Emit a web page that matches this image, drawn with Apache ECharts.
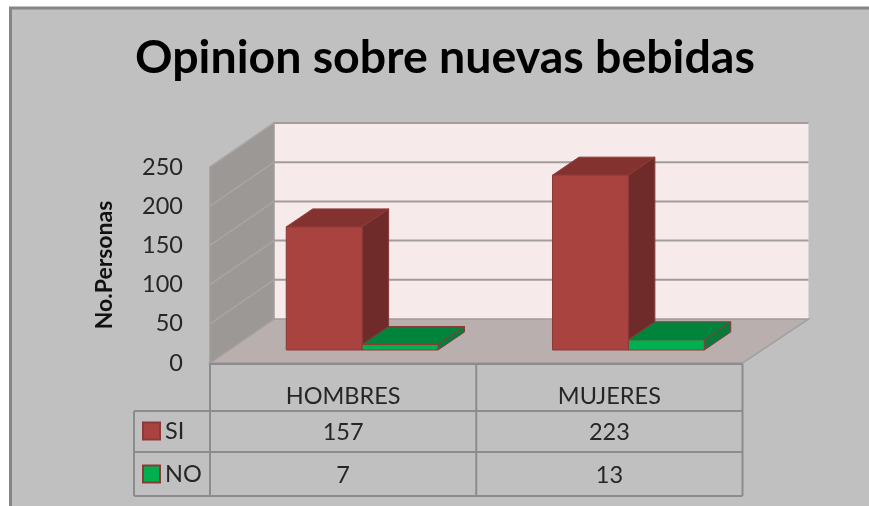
<!DOCTYPE html>
<html>
<head>
<meta charset="utf-8">
<style>html,body{margin:0;padding:0;background:#fff}#c{width:869px;height:506px;filter:blur(0.5px)}</style>
<script src="https://cdn.jsdelivr.net/npm/echarts@6/dist/echarts.min.js"></script>
</head>
<body>
<div id="c"></div>
<script>
const categories = ['HOMBRES', 'MUJERES'];
const siValues = [157, 223];
const noValues = [7, 13];
const yTicks = [0, 50, 100, 150, 200, 250];
const titleText = 'Opinion sobre nuevas bebidas';
const yAxisName = 'No.Personas';

const FONT = 'Lato';
const WALL_DX = 64, WALL_DX_R = 66, WALL_DY = -44;   // oblique depth of the whole floor
const BAR_DX = 26.5, BAR_DY = -18;   // oblique depth of one bar
const GAP_DX = 19, GAP_DY = -13;     // front of bars, behind front edge of floor
const LINE = '#a09d9b', TABLE = '#8c8c8c', EDGE = '#8c3a38';

function poly(points, fill, stroke, lineWidth) {
  return { type: 'polygon', shape: { points: points },
    style: { fill: fill, stroke: stroke || null, lineWidth: lineWidth || 0 } };
}
function seg(x1, y1, x2, y2, stroke, w) {
  return { type: 'line', shape: { x1, y1, x2, y2 }, style: { stroke: stroke, lineWidth: w } };
}

function renderWalls(params, api) {
  const cs = params.coordSys;
  const L = cs.x, R = cs.x + cs.width;
  const y0 = api.coord([0, 0])[1];
  const yTop = api.coord([0, yTicks[yTicks.length - 1]])[1];
  const children = [
    poly([[L + WALL_DX, yTop + WALL_DY], [R + WALL_DX_R, yTop + WALL_DY], [R + WALL_DX_R, y0 + WALL_DY], [L + WALL_DX, y0 + WALL_DY]], '#f6eaea'),
    poly([[L, yTop], [L + WALL_DX, yTop + WALL_DY], [L + WALL_DX, y0 + WALL_DY], [L, y0]], '#9c9896', '#a09d9b', 1.5),
    poly([[L, y0], [L + WALL_DX, y0 + WALL_DY], [R + WALL_DX_R, y0 + WALL_DY], [R, y0]], '#b9afaf', '#a09d9b', 1.5)
  ];
  yTicks.forEach(function (t) {
    const y = api.coord([0, t])[1];
    if (t > 0) {
      children.push(seg(L + WALL_DX, y + WALL_DY, R + WALL_DX_R, y + WALL_DY, LINE, 2));
      children.push(seg(L, y, L + WALL_DX, y + WALL_DY, '#a8a5a3', 1.5));
    }
  });
  return { type: 'group', children: children };
}

function barRenderer(offsetIndex, front, top, side) {
  return function (params, api) {
    const cat = api.value(0), val = api.value(1);
    const band = api.size([1, 0])[0];
    const w = band * 0.285;
    const cx = api.coord([cat, 0])[0];
    const xa = cx + GAP_DX + (offsetIndex - 1) * w;
    const xb = xa + w;
    const yb = api.coord([cat, 0])[1] + GAP_DY;
    const yt = api.coord([cat, val])[1] + GAP_DY;
    return { type: 'group', children: [
      poly([[xa, yt], [xa + BAR_DX, yt + BAR_DY], [xb + BAR_DX, yt + BAR_DY], [xb, yt]], top, EDGE, 1),
      poly([[xb, yt], [xb + BAR_DX, yt + BAR_DY], [xb + BAR_DX, yb + BAR_DY], [xb, yb]], side, EDGE, 1),
      poly([[xa, yt], [xb, yt], [xb, yb], [xa, yb]], front, EDGE, 1)
    ] };
  };
}

function renderTable(params, api) {
  const cs = params.coordSys;
  const L = cs.x, R = cs.x + cs.width, T = cs.y + cs.height + 1;
  const M = api.coord([0, 0])[0] + api.size([1, 0])[0] / 2;
  const rows = [411, 452, 496], X0 = 134;
  const children = [
    seg(L, T, R, T, TABLE, 2),
    seg(L, T, L, rows[2], TABLE, 2),
    seg(M, T, M, rows[2], TABLE, 2),
    seg(R, T, R, rows[2], TABLE, 2),
    seg(X0, rows[0], X0, rows[2], TABLE, 2)
  ];
  rows.forEach(function (y) { children.push(seg(X0, y, R, y, TABLE, 2)); });
  categories.forEach(function (c, i) {
    const x = api.coord([i, 0])[0];
    [[siValues[i], 432], [noValues[i], 475]].forEach(function (r) {
      children.push({ type: 'text', x: x, y: r[1], style: {
        text: String(r[0]), fill: '#262626', font: '23.5px ' + FONT, align: 'center', verticalAlign: 'middle' } });
    });
  });
  return { type: 'group', children: children };
}

const chart = echarts.init(document.getElementById('c'), null, { renderer: 'canvas' });
chart.setOption({
  animation: false,
  backgroundColor: '#ffffff',
  graphic: [{ type: 'rect', z: -10, shape: { x: 10.5, y: 8, width: 870, height: 510 },
    style: { fill: '#c0c0c0', stroke: '#868686', lineWidth: 3 } }],
  title: { text: titleText, left: 135, top: 34, padding: 0,
    textStyle: { fontFamily: FONT, fontWeight: 'bold', fontSize: 46.5, color: '#000' } },
  grid: { left: 210, top: 167, width: 532.5, height: 196, containLabel: false },
  legend: { orient: 'vertical', icon: 'rect', left: 137, top: 414, itemWidth: 17, itemHeight: 17, itemGap: 19,
    data: ['SI', 'NO'], textStyle: { fontFamily: FONT, fontSize: 23.5, color: '#262626', padding: [0, 0, 0, 0] },
    selectedMode: false },
  xAxis: { type: 'category', data: categories, boundaryGap: true,
    axisLine: { show: false }, axisTick: { show: false },
    axisLabel: { margin: 21, fontFamily: FONT, fontSize: 23.5, color: '#262626' } },
  yAxis: { type: 'value', min: 0, max: 250, interval: 50, name: yAxisName, nameLocation: 'middle',
    nameGap: 94, nameRotate: 90,
    nameTextStyle: { fontFamily: FONT, fontSize: 23, fontWeight: 'bold', color: '#111' },
    splitLine: { show: false }, axisLine: { show: false }, axisTick: { show: false },
    axisLabel: { margin: 27, padding: [8, 0, 0, 0], fontFamily: FONT, fontSize: 23.5, color: '#262626' } },
  series: [
    { type: 'custom', name: 'walls', silent: true, z: 1, renderItem: renderWalls, data: [[0, 0]], clip: false },
    { type: 'custom', name: 'SI', z: 3, renderItem: barRenderer(0, '#a9433f', '#843230', '#6e2b29'),
      encode: { x: 0, y: 1 }, clip: false,
      itemStyle: { color: '#a9433f', borderColor: EDGE, borderWidth: 1.5 },
      data: siValues.map(function (v, i) { return [i, v]; }) },
    { type: 'custom', name: 'NO', z: 4, renderItem: barRenderer(1, '#00b050', '#00843c', '#0a7a3c'),
      encode: { x: 0, y: 1 }, clip: false,
      itemStyle: { color: '#00b050', borderColor: EDGE, borderWidth: 1.5 },
      data: noValues.map(function (v, i) { return [i, v]; }) },
    { type: 'custom', name: 'tabla', silent: true, z: 2, renderItem: renderTable, data: [[0, 0]], clip: false }
  ]
});
</script>
</body>
</html>
